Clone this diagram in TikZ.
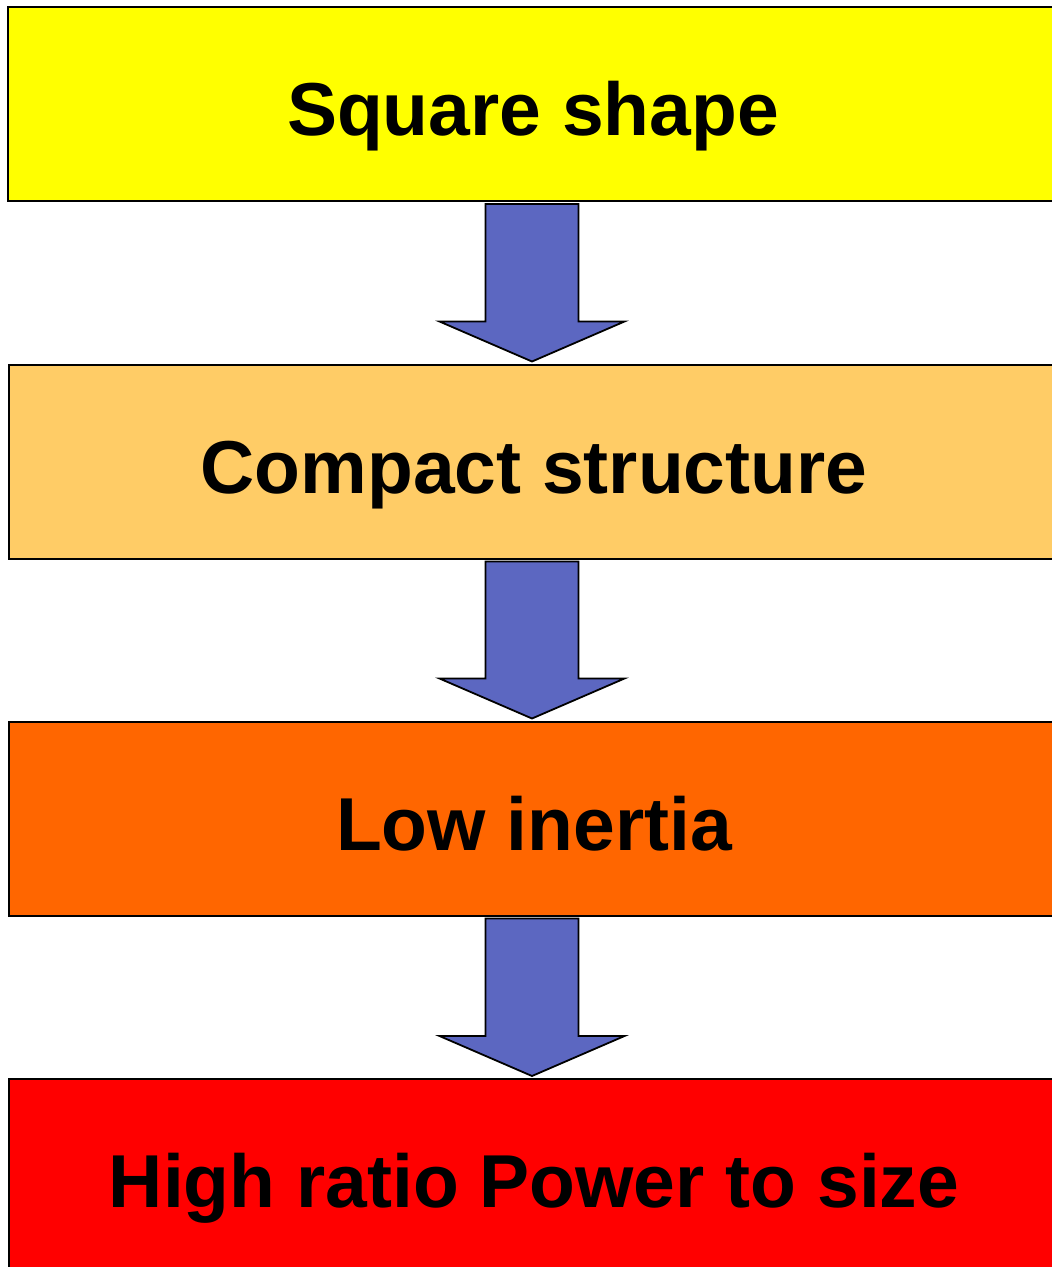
\documentclass[tikz,border=0pt]{standalone}
\usepackage{fontspec}
\setmainfont{Liberation Sans}
\usetikzlibrary{calc}
\definecolor{boxyellow}{RGB}{255,255,0}
\definecolor{boxlight}{RGB}{255,204,102}
\definecolor{boxorange}{RGB}{255,102,0}
\definecolor{boxred}{RGB}{255,0,0}
\definecolor{arrowblue}{RGB}{92,103,193}
\tikzset{
  stage/.style={draw=black, line width=2pt, rectangle, minimum width=1050pt, minimum height=194pt, inner sep=0pt,
    text height=63pt, text depth=0pt,
    font=\fontsize{75}{88}\selectfont\bfseries, text=black},
  blockarrow/.style={draw=black, line width=1.8pt, fill=arrowblue, line join=miter}
}
\begin{document}
\begin{tikzpicture}[x=1pt,y=-1pt]
\clip (0,0) rectangle (1052,1267);
\fill[white] (0,0) rectangle (1052,1267);
\node[stage, fill=boxyellow] (a) at (533,104) {Square shape};
\node[stage, fill=boxlight] (b) at (534,461.5) {Compact structure};
\node[stage, fill=boxorange] (c) at (534,818.5) {Low inertia};
\node[stage, fill=boxred] (d) at (534,1176) {High ratio Power to size};
\foreach \u/\v in {a/b,b/c,c/d}{
  \coordinate (t) at ($(\u.south)+(0,2)$);
  \coordinate (tip) at ($(\v.north)+(-2,-2)$);
  \draw[blockarrow] ($(tip)+(-46.5,-40)$) |- (t) -| ($(tip)+(46.5,-40)$)
    -- ($(tip)+(92.5,-40)$) -- (tip) -- ($(tip)+(-92.5,-40)$) -- cycle;
}
\end{tikzpicture}
\end{document}
